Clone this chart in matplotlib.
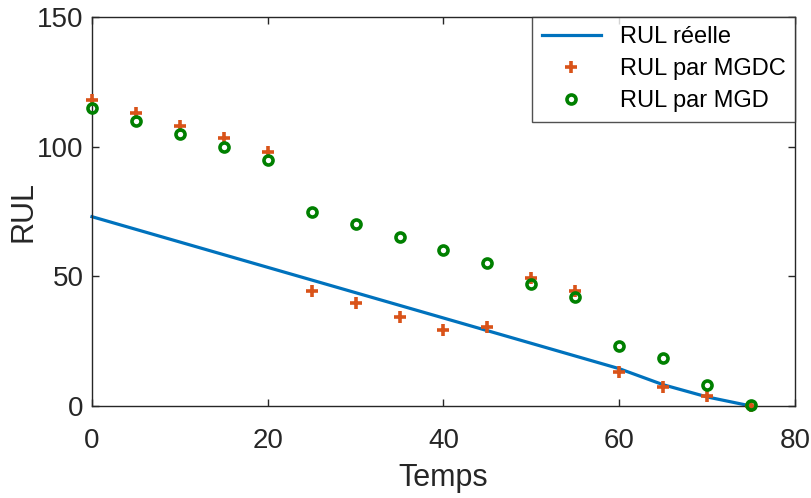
import matplotlib
matplotlib.use("Agg")
import matplotlib.pyplot as plt

# Données
temps = [0, 5, 10, 15, 20, 25, 30, 35, 40, 45, 50, 55, 60, 65, 70, 75]
rul_mgdc = [118, 113, 108, 103.3, 97.8, 44.3, 39.6, 34.4, 29.4, 30.6, 49.3, 44.3, 13, 7.2, 3.7, 0]
rul_mgd = [114.8, 109.8, 104.8, 99.8, 94.9, 75, 70.2, 65.3, 60.1, 55.2, 47, 42.2, 23.3, 18.4, 8.2, 0.3]

temps_reel = [0, 60, 65, 70, 75]
rul_reelle = [73, 14.4, 8.2, 3.5, 0]

BLUE = "#0072BD"
ORANGE = "#D95319"
GREEN = "#008000"
AXIS = "#262626"

plt.rcParams["font.family"] = ["Liberation Sans", "DejaVu Sans"]

fig = plt.figure(figsize=(8.11, 4.98), dpi=100)
ax = fig.add_axes([0.1134, 0.1847, 0.8669, 0.7812])

ax.plot(temps_reel, rul_reelle, color=BLUE, lw=2.3, label="RUL réelle", zorder=2,
        clip_on=False)
ax.plot(temps, rul_mgdc, ls="none", marker="+", ms=9, mew=2.6, color=ORANGE,
        label="RUL par MGDC", zorder=3, clip_on=False)
ax.plot(temps, rul_mgd, ls="none", marker="o", ms=6.5, mew=2.6, mfc="none", mec=GREEN,
        label="RUL par MGD", zorder=4, clip_on=False)

ax.set_xlim(0, 80)
ax.set_ylim(0, 150)
ax.set_xticks([0, 20, 40, 60, 80])
ax.set_yticks([0, 50, 100, 150])
ax.tick_params(direction="in", length=5, width=1.0, colors=AXIS, labelsize=20,
               top=True, right=True, pad=6)
ax.tick_params(axis="x", pad=16)
for s in ax.spines.values():
    s.set_color(AXIS)
    s.set_linewidth(1.0)
ax.set_xlabel("Temps", fontsize=22, color=AXIS, labelpad=6)
ax.set_ylabel("RUL", fontsize=22, color=AXIS, labelpad=-1)

leg = ax.legend(loc="upper right", fontsize=17, frameon=True, fancybox=False,
                borderaxespad=0, handlelength=2.5, labelspacing=0.42,
                borderpad=0.4, handletextpad=0.8)
leg.get_frame().set_edgecolor(AXIS)
leg.get_frame().set_linewidth(1.0)

fig.savefig("out.png", dpi=100)
